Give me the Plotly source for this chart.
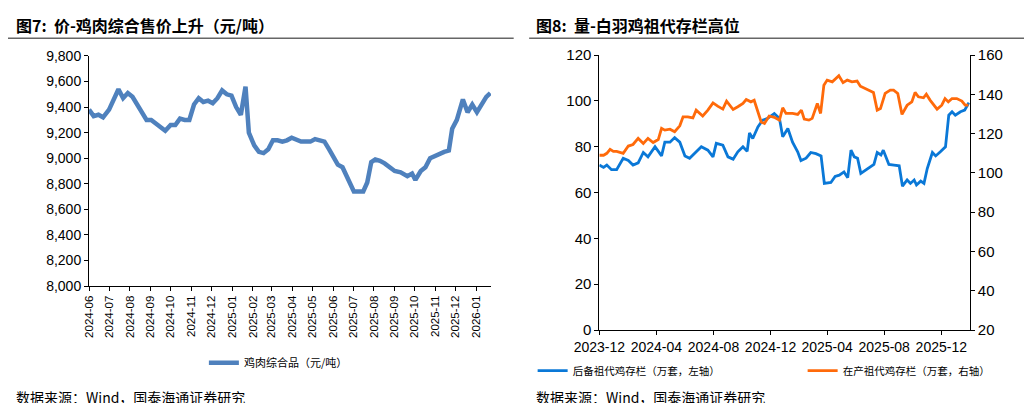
import plotly.graph_objects as go

# ---- Left panel: 鸡肉综合品 price (元/吨)
price_dates = ["2024-06-01","2024-06-08","2024-06-15","2024-06-22","2024-07-01","2024-07-08","2024-07-15","2024-07-22","2024-07-29",
"2024-08-05","2024-08-12","2024-08-19","2024-08-26","2024-09-02","2024-09-09","2024-09-16","2024-09-23","2024-10-01","2024-10-08",
"2024-10-15","2024-10-22","2024-10-29","2024-11-05","2024-11-12","2024-11-19","2024-11-26","2024-12-03","2024-12-10","2024-12-17",
"2024-12-24","2024-12-31","2025-01-07","2025-01-14","2025-01-21","2025-01-26","2025-02-03","2025-02-10","2025-02-17","2025-02-24",
"2025-03-03","2025-03-10","2025-03-17","2025-03-24","2025-03-31","2025-04-07","2025-04-14","2025-04-21","2025-04-28","2025-05-05",
"2025-05-12","2025-05-19","2025-05-26","2025-06-02","2025-06-08","2025-06-15","2025-06-22","2025-06-27","2025-07-02","2025-07-09",
"2025-07-16","2025-07-22","2025-07-28","2025-08-03","2025-08-10","2025-08-17","2025-08-24","2025-09-01","2025-09-10","2025-09-20",
"2025-09-27","2025-10-02","2025-10-10","2025-10-17","2025-10-24","2025-10-31","2025-11-07","2025-11-14","2025-11-21","2025-11-26",
"2025-12-03","2025-12-12","2025-12-19","2025-12-26","2026-01-02","2026-01-09","2026-01-16","2026-01-22"]
price_vals = [9380,9330,9340,9320,9380,9460,9540,9470,9510,
9480,9420,9350,9300,9300,9270,9240,9215,9260,9260,
9310,9300,9300,9420,9470,9440,9450,9430,9470,9530,
9500,9490,9400,9340,9560,9200,9100,9050,9040,9070,
9140,9140,9130,9140,9160,9140,9130,9130,9130,9150,
9140,9130,9070,9000,8950,8930,8850,8780,8740,8740,
8740,8810,8970,8990,8980,8960,8930,8900,8890,8860,
8880,8830,8900,8930,9000,9020,9030,9050,9060,9230,
9300,9460,9360,9420,9360,9420,9480,9510]
n = min(len(price_dates), len(price_vals))
price_dates, price_vals = price_dates[:n], price_vals[:n]

# ---- Right panel: 后备祖代鸡存栏 (left axis)
reserve_dates = ["2023-12-01","2023-12-10","2023-12-17","2023-12-27","2024-01-07","2024-01-21","2024-02-01","2024-02-11","2024-02-22",
"2024-03-04","2024-03-14","2024-03-29","2024-04-12","2024-04-19","2024-04-30","2024-05-10","2024-05-21","2024-06-01","2024-06-11",
"2024-06-25","2024-07-06","2024-07-20","2024-07-31","2024-08-07","2024-08-21","2024-09-01","2024-09-12","2024-09-22","2024-10-03",
"2024-10-12","2024-10-17","2024-10-24","2024-11-04","2024-11-14","2024-11-25","2024-12-09","2024-12-20","2024-12-27","2025-01-07",
"2025-01-17","2025-01-28","2025-02-04","2025-02-15","2025-02-25","2025-03-08","2025-03-19","2025-03-26","2025-04-09","2025-04-18",
"2025-04-27","2025-05-07","2025-05-15","2025-05-22","2025-05-29","2025-06-05","2025-06-12","2025-06-26","2025-07-10","2025-07-17",
"2025-07-25","2025-07-30","2025-08-11","2025-08-22","2025-09-02","2025-09-09","2025-09-19","2025-09-26","2025-10-04","2025-10-09",
"2025-10-18","2025-10-25","2025-11-01","2025-11-12","2025-11-19","2025-11-29","2025-12-10","2025-12-17","2025-12-24","2025-12-31",
"2026-01-11","2026-01-20","2026-01-29"]
reserve_vals = [72,71,72,70,70,75,74,72,73,
77.5,75.6,80,76,82,82,84,82,76,75,
78,80,78.5,75.6,81.5,80.7,75.6,74.6,77.8,80,
78,86,83.6,88.7,91.6,92.4,94.5,92.4,84.4,88,
82,77.8,74,75,77.5,77,76,64,64.4,67,
67.6,69,66.5,78.5,75.6,75,68.4,70.5,72.3,77.5,
76.4,78.5,72.3,72,71.7,62.8,65.5,64,65.5,63.3,
65,64,70.5,77.5,76,77.8,80,93.8,95.3,93.8,
95.3,96,99.3]

# ---- Right panel: 在产祖代鸡存栏 (right axis)
prod_dates = ["2023-12-01","2023-12-10","2023-12-17","2023-12-24","2023-12-31","2024-01-07","2024-01-21","2024-02-01","2024-02-11",
"2024-02-22","2024-03-04","2024-03-14","2024-03-25","2024-04-05","2024-04-12","2024-04-19","2024-04-30","2024-05-10","2024-05-21",
"2024-05-28","2024-06-07","2024-06-18","2024-06-25","2024-07-09","2024-07-20","2024-07-31","2024-08-10","2024-08-21","2024-08-29",
"2024-09-12","2024-09-22","2024-10-03","2024-10-10","2024-10-20","2024-10-27","2024-11-04","2024-11-11","2024-11-18","2024-11-28",
"2024-12-09","2024-12-20","2024-12-27","2025-01-03","2025-01-17","2025-01-28","2025-02-05","2025-02-11","2025-02-21","2025-02-28",
"2025-03-11","2025-03-18","2025-03-25","2025-04-01","2025-04-12","2025-04-19","2025-04-26","2025-05-05","2025-05-14","2025-05-24",
"2025-06-04","2025-06-11","2025-06-22","2025-07-02","2025-07-09","2025-07-17","2025-07-24","2025-08-03","2025-08-14","2025-08-21",
"2025-08-30","2025-09-08","2025-09-19","2025-09-29","2025-10-06","2025-10-13","2025-10-24","2025-10-30","2025-11-07","2025-11-22",
"2025-12-02","2025-12-09","2025-12-16","2025-12-24","2026-01-03","2026-01-14","2026-01-21","2026-01-28"]
prod_vals = [109,109,110,112,111,111,110,113.7,114.5,
117.6,115,117.6,115.5,117,122.7,121.8,122.3,121,124,
128.6,128.6,128,132,129,132,135.7,134,132.5,136.6,
132.3,133.7,135.4,137.4,136.2,137,131,126,125.2,129,
128.3,126.9,133.2,130.3,130.3,129.8,132,127.4,126.9,127.8,
135.4,130.3,144.7,147.3,146.4,147.8,149.5,146,147.3,146.4,
146.8,144.2,143,141.7,141,132,132.8,140.5,142.2,142.2,
140.5,129.8,134.5,136.2,141,138.8,138.3,140.1,137.1,132.5,
134.5,137.9,136.2,137.9,137.9,136.6,134.5,134.5]

CJK = "Noto Sans CJK SC"
LAT = "Liberation Sans"

fig = go.Figure()
fig.add_trace(go.Scatter(x=price_dates, y=price_vals, mode="lines", name="鸡肉综合品（元/吨）",
                         line=dict(color="#4F81BD", width=4.5), xaxis="x", yaxis="y", legend="legend"))
fig.add_trace(go.Scatter(x=reserve_dates, y=reserve_vals, mode="lines", name="后备祖代鸡存栏（万套，左轴）",
                         line=dict(color="#0A78D7", width=2.8), xaxis="x2", yaxis="y2", legend="legend2"))
fig.add_trace(go.Scatter(x=prod_dates, y=prod_vals, mode="lines", name="在产祖代鸡存栏（万套，右轴）",
                         line=dict(color="#FF6A0A", width=2.8), xaxis="x2", yaxis="y3", legend="legend2"))

axcommon = dict(showgrid=False, zeroline=False, showline=True, linecolor="black", linewidth=1,
                ticks="outside", ticklen=4, tickcolor="black", automargin=False)
fig.update_layout(
    width=1032, height=403, margin=dict(l=0, r=0, t=0, b=0, autoexpand=False),
    paper_bgcolor="white", plot_bgcolor="white", font=dict(family=LAT, color="black"),
    xaxis=dict(domain=[0.0785, 0.468], anchor="y", type="date", range=["2024-06-01", "2026-01-23"],
               dtick="M1", tick0="2024-06-01", tickformat="%Y-%m", tickangle=-90,
               tickfont=dict(size=11.5, family=LAT), **axcommon),
    yaxis=dict(domain=[0.31, 0.881], anchor="x", range=[8000, 9800], dtick=200, tickformat=",",
               tickfont=dict(size=14, family=LAT), **axcommon),
    xaxis2=dict(domain=[0.573, 0.932], anchor="y2", type="date", range=["2023-12-01", "2026-01-31"],
                dtick="M4", tick0="2023-12-01", tickformat="%Y-%m", tickangle=0,
                tickfont=dict(size=14, family=LAT), **axcommon),
    yaxis2=dict(domain=[0.201, 0.883], anchor="x2", range=[0, 120], dtick=20,
                tickfont=dict(size=15, family=LAT), **axcommon),
    yaxis3=dict(overlaying="y2", side="right", anchor="x2", range=[20, 160], dtick=20,
                tickfont=dict(size=15, family=LAT), **axcommon),
    legend=dict(x=0.262, y=0.12, xanchor="center", yanchor="middle", orientation="h",
                font=dict(family=CJK, size=11), bgcolor="rgba(0,0,0,0)"),
    legend2=dict(x=0.77, y=0.1, xanchor="center", yanchor="middle", orientation="h",
                 font=dict(family=CJK, size=10.5), bgcolor="rgba(0,0,0,0)", entrywidth=225),
    showlegend=True,
)
fig.add_annotation(text="<b>图7:  价-鸡肉综合售价上升（元/吨）</b>", xref="paper", yref="paper", x=0.006, y=0.993,
                   xanchor="left", yanchor="top", showarrow=False, font=dict(family=CJK, size=16))
fig.add_annotation(text="<b>图8:  量-白羽鸡祖代存栏高位</b>", xref="paper", yref="paper", x=0.51, y=0.993,
                   xanchor="left", yanchor="top", showarrow=False, font=dict(family=CJK, size=16))
for xs in (0.006, 0.51):
    fig.add_annotation(text="数据来源：Wind，国泰海通证券研究", xref="paper", yref="paper", x=xs, y=0.005,
                       xanchor="left", yanchor="bottom", showarrow=False, font=dict(family=CJK, size=14))
fig.add_shape(type="line", xref="paper", yref="paper", x0=0.0, x1=0.49, y0=0.925, y1=0.925,
              line=dict(color="#666", width=1.5))
fig.add_shape(type="line", xref="paper", yref="paper", x0=0.505, x1=0.998, y0=0.925, y1=0.925,
              line=dict(color="#666", width=1.5))
fig.write_html("out.html")
